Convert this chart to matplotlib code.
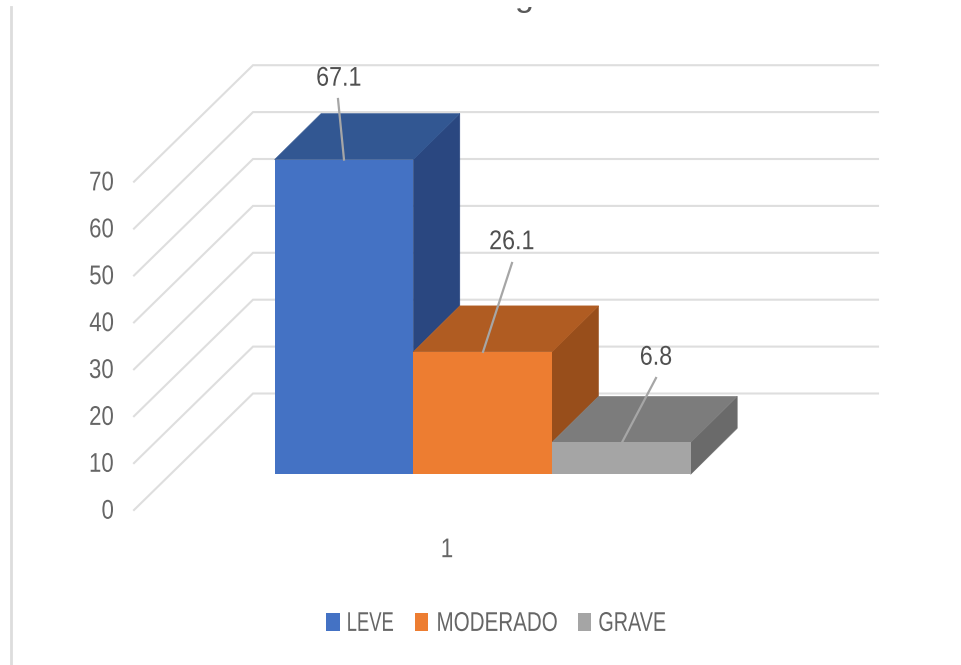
import matplotlib
matplotlib.use("Agg")
import matplotlib.pyplot as plt
from matplotlib.patches import Polygon, Rectangle
from matplotlib.patheffects import AbstractPathEffect
from matplotlib.transforms import Affine2D, Bbox

series_names = ["LEVE", "MODERADO", "GRAVE"]
series_values = [67.1, 26.1, 6.8]
category_label = "1"
y_ticks = [0, 10, 20, 30, 40, 50, 60, 70]

front_colors = ["#4472C4", "#ED7D31", "#A5A5A5"]
top_colors = ["#325792", "#B05C22", "#7C7C7C"]
side_colors = ["#2A4780", "#984E1B", "#6A6A6A"]

W, H = 962, 665
PX_Y = 4.69  # pixels per value unit
PX_X = 138.7  # pixels per bar slot
X0, Y0 = 274.6, 474.3  # pixel position of the first bar's lower left corner


class Squeeze(AbstractPathEffect):
    # narrows the glyphs, no condensed Calibri-like font is installed
    def __init__(self, sx, anchor):
        super().__init__()
        self.sx = sx
        self.anchor = anchor

    def draw_path(self, renderer, gc, tpath, affine, rgbFace=None):
        b = tpath.get_extents()
        ox = b.x0 + self.anchor * b.width
        squeezed = Affine2D().translate(-ox, 0).scale(self.sx, 1).translate(ox, 0) + affine
        renderer.draw_path(gc, tpath, squeezed, rgbFace)


def data_x(px):
    return (px - X0) / PX_X


def data_y(py):
    return (Y0 - py) / PX_Y


def label(x, y, s, sx=0.83, ha="center", color="#666666", size=19.5, zorder=6):
    anchor = {"left": 0, "center": 0.5, "right": 1}[ha]
    # va="center" counts the descender, so move the text down a little
    return ax.text(
        x,
        y - 2.2 / PX_Y,
        s,
        ha=ha,
        va="center",
        fontsize=size,
        color=color,
        zorder=zorder,
        path_effects=[Squeeze(sx, anchor)],
    )


plt.rcParams["font.family"] = ["Liberation Sans", "DejaVu Sans"]

fig = plt.figure(figsize=(W / 100, H / 100), dpi=100)
ax = fig.add_axes([0, 0, 1, 1])
ax.set_xlim(data_x(0), data_x(W))
ax.set_ylim(data_y(H), data_y(0))
ax.axis("off")

# bar depth, in data units
dx = 46.5 / PX_X
dy = 46 / PX_Y

# grid on the back wall and the side wall
wall_x = [data_x(134), data_x(253), data_x(878)]
for t in y_ticks:
    ax.plot(
        wall_x,
        [data_y(510) + t, data_y(393.5) + t, data_y(393.5) + t],
        color="#DEDEDE",
        linewidth=1.5,
        solid_joinstyle="miter",
        zorder=1,
    )
    label(data_x(114), data_y(509.5) + t, str(t), sx=0.82, ha="right")

# oblique side and top of each bar, the side stops where the next bar's top starts
for i, v in enumerate(series_values):
    next_v = series_values[i + 1] if i + 1 < len(series_values) else 0
    ax.add_patch(
        Polygon(
            [(i + 1, next_v), (i + 1 + dx, next_v + dy), (i + 1 + dx, v + dy), (i + 1, v)],
            facecolor=side_colors[i],
            edgecolor=side_colors[i],
            linewidth=0.4,
            zorder=2 + i * 0.1,
        )
    )
    ax.add_patch(
        Polygon(
            [(i, v), (i + 1, v), (i + 1 + dx, v + dy), (i + dx, v + dy)],
            facecolor=top_colors[i],
            edgecolor=top_colors[i],
            linewidth=0.4,
            zorder=2.05 + i * 0.1,
        )
    )
positions = list(range(len(series_values)))
ax.bar(
    positions,
    series_values,
    width=1,
    align="edge",
    color=front_colors,
    zorder=3,
)

# data labels with leader lines
label_px = [(339, 76.5), (512, 240), (656, 355.5)]
leader_top_px = [(338, 99), (512, 263), (656, 378)]
leader_base_px = [344, 483, 622]
for i, v in enumerate(series_values):
    ax.plot(
        [data_x(leader_base_px[i]), data_x(leader_top_px[i][0])],
        [v, data_y(leader_top_px[i][1])],
        color="#A6A6A6",
        linewidth=1.6,
        zorder=5,
    )
    label(
        data_x(label_px[i][0]),
        data_y(label_px[i][1]),
        str(v),
        sx=0.86,
        color="#505050",
    )

# category label under the floor
label(data_x(447), data_y(548), category_label)

# chart border on the left
ax.plot(
    [data_x(10.7), data_x(10.7)],
    [data_y(7), data_y(H)],
    color="#DDDDDD",
    linewidth=2,
)

# what is left of the cut off title
title_piece = ax.text(
    data_x(524.5),
    data_y(6),
    "g",
    ha="center",
    va="baseline",
    fontsize=24.5,
    color="#595959",
)
title_piece.set_clip_box(Bbox([[0, 0], [W, H - 7]]))
title_piece.set_clip_on(True)

# legend, the entries are spaced by hand because the labels are narrowed
legend_square_px = [(325.7, 340), (415, 428), (578, 591)]
legend_text_px = [346, 436, 598]
legend_sx = [0.68, 0.76, 0.73]
for i, name in enumerate(series_names):
    left, right = legend_square_px[i]
    ax.add_patch(
        Rectangle(
            (data_x(left), data_y(630.7)),
            (right - left) / PX_X,
            18 / PX_Y,
            facecolor=front_colors[i],
            linewidth=0,
        )
    )
    label(data_x(legend_text_px[i]), data_y(621.7), name, sx=legend_sx[i], ha="left")

fig.savefig("out.png", dpi=100)
plt.close(fig)
